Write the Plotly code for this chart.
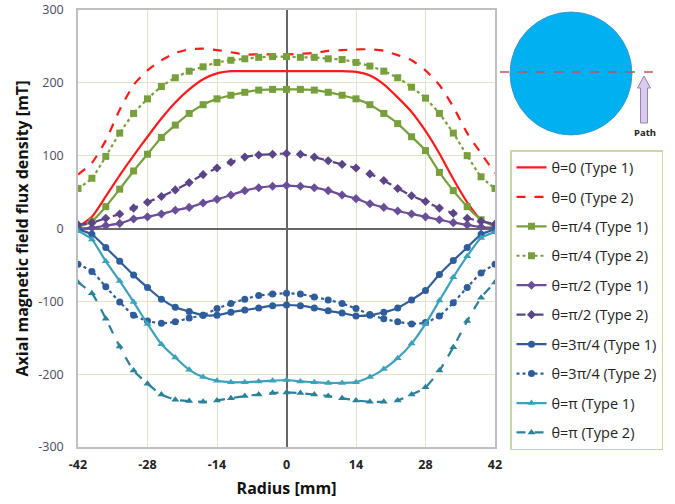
import plotly.graph_objects as go

# ---------------- data ----------------
radius = [-42, -39.2, -36.4, -33.6, -30.8, -28, -25.2, -22.4, -19.6, -16.8, -14, -11.2, -8.4, -5.6, -2.8, 0,
          2.8, 5.6, 8.4, 11.2, 14, 16.8, 19.6, 22.4, 25.2, 28, 30.8, 33.6, 36.4, 39.2, 42]

theta0_t1 = [2, 16, 44, 73, 100, 126, 151, 173, 191, 205, 213, 216, 216, 216, 216, 216,
             216, 216, 216, 216, 215, 210, 198, 180, 160, 134, 103, 68, 36, 12, 3]
theta0_t2 = [74, 90, 121, 163, 197, 217, 231, 241, 246, 247, 245, 242, 239, 239, 239, 239,
             240, 241, 244, 245, 246, 246, 244, 238, 231, 217, 197, 167, 131, 103, 76]
theta45_t1 = [2, 10, 30, 54, 79, 102, 125, 142, 158, 170, 178, 183, 187, 190, 191, 191,
              191, 190, 187, 183, 178, 170, 158, 144, 126, 107, 77, 52, 30, 12, 3]
theta45_t2 = [55, 69, 99, 131, 158, 178, 195, 207, 216, 222, 228, 231, 233, 235, 236, 236,
              235, 235, 233, 232, 228, 223, 216, 207, 194, 179, 158, 131, 100, 71, 55]
theta90_t1 = [0, 1, 4, 7, 13, 16, 20, 25, 29, 35, 40, 46, 52, 56, 58, 59,
              58, 56, 52, 46, 41, 34, 29, 24, 20, 16, 12, 8, 5, 2, 1]
theta90_t2 = [5, 8, 14, 20, 28, 36, 44, 53, 63, 74, 83, 91, 98, 101, 102, 103,
              102, 98, 93, 88, 83, 75, 66, 55, 45, 37, 28, 21, 14, 10, 6]
theta135_t1 = [-1, -8, -26, -45, -64, -81, -97, -108, -114, -119, -119, -115, -112, -109, -106, -105,
               -106, -109, -113, -116, -120, -119, -115, -109, -98, -85, -63, -44, -26, -8, -1]
theta135_t2 = [-49, -59, -80, -101, -119, -127, -130, -128, -123, -119, -110, -103, -97, -92, -90, -89,
               -90, -94, -98, -103, -110, -118, -124, -128, -131, -129, -120, -102, -81, -61, -49]
theta180_t1 = [-3, -15, -45, -72, -101, -131, -159, -177, -194, -204, -209, -211, -211, -210, -209, -208,
               -210, -211, -212, -212, -211, -204, -193, -178, -158, -131, -99, -67, -38, -13, -5]
theta180_t2 = [-74, -89, -124, -162, -195, -213, -228, -235, -237, -238, -236, -233, -230, -228, -226, -225,
               -226, -228, -230, -233, -236, -238, -238, -236, -228, -218, -195, -163, -127, -95, -74]

series_names = ["θ=0 (Type 1)", "θ=0 (Type 2)", "θ=π/4 (Type 1)", "θ=π/4 (Type 2)",
                "θ=π/2 (Type 1)", "θ=π/2 (Type 2)", "θ=3π/4 (Type 1)", "θ=3π/4 (Type 2)",
                "θ=π (Type 1)", "θ=π (Type 2)"]

x_tickvals = [-42, -28, -14, 0, 14, 28, 42]
x_ticktext = ["-42", "-28", "-14", "0", "14", "28", "42"]
y_tickvals = [-300, -200, -100, 0, 100, 200, 300]
y_ticktext = ["-300", "-200", "-100", "0", "100", "200", "300"]

x_title = "Radius [mm]"
y_title = "Axial magnetic field flux density [mT]"
inset_label = "Path"

# ---------------- styles ----------------
series_values = [theta0_t1, theta0_t2, theta45_t1, theta45_t2, theta90_t1, theta90_t2,
                 theta135_t1, theta135_t2, theta180_t1, theta180_t2]
styles = [
    dict(color="#FF1A1A", dash="solid", symbol=None),
    dict(color="#FF1A1A", dash="dash", symbol=None),
    dict(color="#77A03C", dash="solid", symbol="square"),
    dict(color="#77A03C", dash="dot", symbol="square"),
    dict(color="#6B4E98", dash="solid", symbol="diamond"),
    dict(color="#5B4587", dash="dash", symbol="diamond"),
    dict(color="#2F5D9B", dash="solid", symbol="circle"),
    dict(color="#2F5D9B", dash="dot", symbol="circle"),
    dict(color="#3CA2BC", dash="solid", symbol="triangle-up"),
    dict(color="#2A8199", dash="dash", symbol="triangle-up"),
]

fig = go.Figure()
for i, (name, vals, st) in enumerate(zip(series_names, series_values, styles)):
    mode = "lines" if st["symbol"] is None else "lines+markers"
    fig.add_trace(go.Scatter(
        x=radius, y=vals, name=name, mode=mode, legendgroup=f"g{i}",
        line=dict(color=st["color"], width=2.2, dash=st["dash"], shape="spline", smoothing=0.6),
        marker=dict(symbol=st["symbol"] or "circle", size=7, color=st["color"]),
    ))

# plot-area pixel geometry
L, R, T, B = 78, 495, 10, 447
W, H = 675, 504


def px(x):
    return (x - L) / (R - L)


def py(y):
    return (B - y) / (B - T)


shapes = [
    # inset circle
    dict(type="circle", xref="paper", yref="paper", x0=px(510), x1=px(632), y0=py(135), y1=py(12),
         fillcolor="#00B0F0", line=dict(color="#3A8FC0", width=0.8), layer="above"),
    # dashed path line
    dict(type="line", xref="paper", yref="paper", x0=px(500), x1=px(657), y0=py(72), y1=py(72),
         line=dict(color="#C8505A", width=1.5, dash="dash"), layer="above"),
    # arrow
    dict(type="path", xref="paper", yref="paper",
         path=(f"M {px(644)} {py(76)} L {px(650.5)} {py(88)} L {px(647.5)} {py(88)} "
               f"L {px(647.5)} {py(123)} L {px(640.5)} {py(123)} L {px(640.5)} {py(88)} "
               f"L {px(637.5)} {py(88)} Z"),
         fillcolor="#D9CCEA", line=dict(color="#9880B8", width=1), layer="above"),
]

annotations = [
    dict(text=f"<b>{inset_label}</b>", xref="paper", yref="paper", x=px(645), y=py(132),
         showarrow=False, font=dict(size=9.5, color="#222222", family="Open Sans"),
         xanchor="center", yanchor="middle"),
]

fig.update_layout(
    width=W, height=H,
    margin=dict(l=L, r=W - R, t=T, b=H - B),
    plot_bgcolor="white", paper_bgcolor="white",
    font=dict(family="Open Sans", color="#222222"),
    shapes=shapes, annotations=annotations,
    legend=dict(
        x=px(510), y=py(150), xanchor="left", yanchor="top",
        bordercolor="#C5D9A0", borderwidth=1.5, bgcolor="white",
        font=dict(size=14.5, family="Open Sans", color="#222222"),
        tracegroupgap=7.6, traceorder="grouped",
    ),
)

fig.update_xaxes(
    range=[-42, 42], tickvals=x_tickvals, ticktext=[f"<b>{t}</b>" for t in x_ticktext],
    tickfont=dict(size=12.5, color="#222222"),
    showgrid=True, gridcolor="#DCE6C4", gridwidth=1,
    zeroline=True, zerolinecolor="#666666", zerolinewidth=1.5,
    showline=True, linecolor="#BFBFBF", linewidth=1.5, mirror=True,
    title=dict(text=f"<b>{x_title}</b>", font=dict(size=16, color="#111111"), standoff=11),
    ticks="", ticklabelstandoff=5, automargin=False,
)
fig.update_yaxes(
    range=[-300, 300], tickvals=y_tickvals, ticktext=y_ticktext,
    tickfont=dict(size=12.5, color="#4A4A60"),
    showgrid=True, gridcolor="#DCE6C4", gridwidth=1,
    zeroline=True, zerolinecolor="#666666", zerolinewidth=1.5,
    showline=True, linecolor="#BFBFBF", linewidth=1.5, mirror=True,
    title=dict(text=f"<b>{y_title}</b>", font=dict(size=16, color="#111111"), standoff=6),
    ticks="", ticklabelstandoff=10, automargin=False,
)

fig.write_html("out.html")
